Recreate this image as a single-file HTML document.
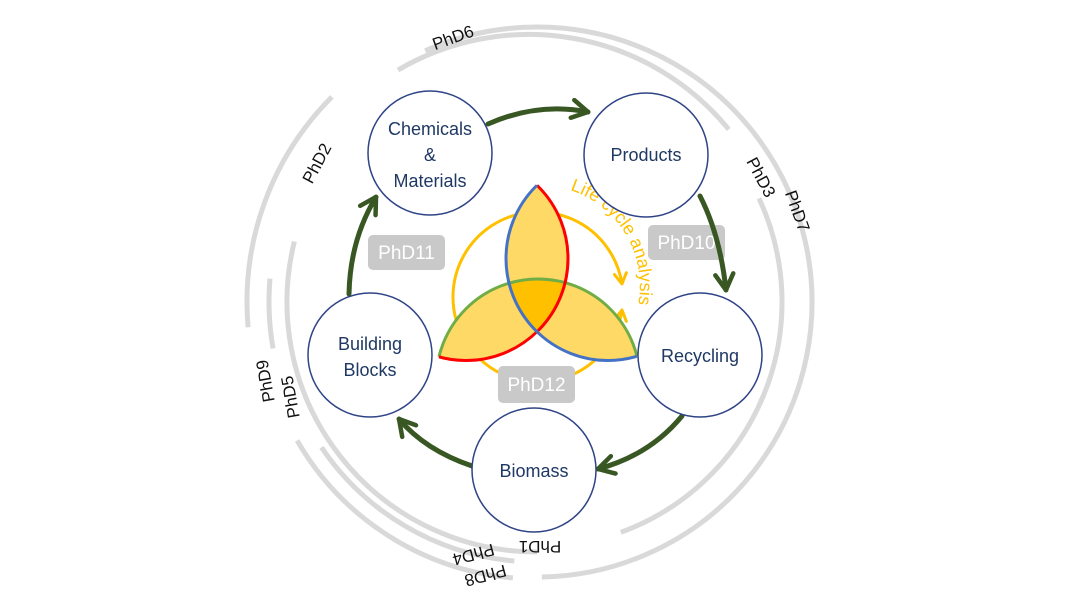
<!DOCTYPE html>
<html><head><meta charset="utf-8"><style>
html,body{margin:0;padding:0;background:#fff;}
svg{display:block;}
text{font-family:"Liberation Sans","DejaVu Sans",sans-serif;}
</style></head><body>
<svg width="1068" height="601" viewBox="0 0 1068 601" xmlns="http://www.w3.org/2000/svg">
<defs>
<marker id="ga" viewBox="0 0 10 10" refX="8" refY="5" markerWidth="4.5" markerHeight="4.5" orient="auto" markerUnits="strokeWidth">
<path d="M1,1 L8,5 L1,9" fill="none" stroke="#385723" stroke-width="2" stroke-linecap="round" stroke-linejoin="round"/>
</marker>
<marker id="ya" viewBox="0 0 10 10" refX="8" refY="5" markerWidth="5" markerHeight="5" orient="auto-start-reverse" markerUnits="strokeWidth">
<path d="M1,1 L8,5 L1,9" fill="none" stroke="#ffc000" stroke-width="2" stroke-linecap="round" stroke-linejoin="round"/>
</marker>
<clipPath id="cb"><circle cx="608" cy="258.5" r="102"/></clipPath>
<clipPath id="cr"><circle cx="466" cy="258.5" r="102"/></clipPath>
<clipPath id="cg"><circle cx="538" cy="381" r="102"/></clipPath>
<clipPath id="crg"><circle cx="466" cy="258.5" r="102"/><circle cx="538" cy="381" r="102"/></clipPath>
<clipPath id="cbg"><circle cx="608" cy="258.5" r="102"/><circle cx="538" cy="381" r="102"/></clipPath>
<clipPath id="cbr"><circle cx="608" cy="258.5" r="102"/><circle cx="466" cy="258.5" r="102"/></clipPath>
<path id="lca" d="M 570,190 A 101,101 0 0 1 637,310"/>
</defs>

<!-- gray arcs -->
<g fill="none" stroke="#d9d9d9" stroke-width="5">
<path d="M 425.2,50.8 A 275,275 0 1 1 541.8,577"/>
<path d="M 398,70 A 258,258 0 0 1 728.7,129.4"/>
<path d="M 759,198.4 A 245,245 0 0 1 620.8,532.3"/>
<path d="M 331.9,96.9 A 290,290 0 0 0 248.1,327.3"/>
<path d="M 270,278.6 A 268,268 0 0 0 273.1,348.5"/>
<path d="M 294.4,241.5 A 250,250 0 0 0 537,552"/>
<path d="M 297.1,440.5 A 277,277 0 0 0 512.9,577.9"/>
<path d="M 321.5,447.4 A 260,260 0 0 0 514.3,561"/>
</g>

<!-- PhD labels -->
<g font-size="17" fill="#111" text-anchor="middle">
<text transform="translate(455,43) rotate(-20)">PhD6</text>
<text transform="translate(322,166) rotate(-62)">PhD2</text>
<text transform="translate(756,180) rotate(62)">PhD3</text>
<text transform="translate(792,213) rotate(70)">PhD7</text>
<text transform="translate(271,380) rotate(-100)">PhD9</text>
<text transform="translate(296,396) rotate(-100)">PhD5</text>
<text transform="translate(540,541) rotate(180)">PhD1</text>
<text transform="translate(472,549) rotate(165)">PhD4</text>
<text transform="translate(484,570) rotate(165)">PhD8</text>
</g>

<!-- yellow cycle -->
<path d="M 622,310 A 85,85 0 1 1 622,284" fill="none" stroke="#ffc000" stroke-width="3" marker-end="url(#ya)" marker-start="url(#ya)"/>
<text font-size="18" fill="#ffc000"><textPath href="#lca">Life cycle analysis</textPath></text>

<!-- triquetra fills -->
<g clip-path="url(#cb)"><rect x="300" y="100" width="450" height="350" fill="#ffd966" clip-path="url(#crg)"/></g>
<g clip-path="url(#cr)"><rect x="300" y="100" width="450" height="350" fill="#ffd966" clip-path="url(#cg)"/></g>
<g clip-path="url(#cb)"><g clip-path="url(#cr)"><rect x="300" y="100" width="450" height="350" fill="#ffc000" clip-path="url(#cg)"/></g></g>
<!-- strokes -->
<circle cx="538" cy="381" r="102" fill="none" stroke="#70ad47" stroke-width="3" clip-path="url(#cbr)"/>
<circle cx="466" cy="258.5" r="102" fill="none" stroke="#ff0000" stroke-width="3" clip-path="url(#cbg)"/>
<circle cx="608" cy="258.5" r="102" fill="none" stroke="#4472c4" stroke-width="3" clip-path="url(#crg)"/>

<!-- gray boxes -->
<g fill="#c9c9c9">
<rect x="368" y="235" width="77" height="35" rx="5"/>
<rect x="648" y="225" width="77" height="35" rx="5"/>
<rect x="498" y="366" width="77" height="37" rx="5"/>
</g>
<g font-size="19" fill="#fff" text-anchor="middle">
<text x="406.5" y="259">PhD11</text>
<text x="686.5" y="249">PhD10</text>
<text x="536.5" y="391">PhD12</text>
</g>

<!-- green arrows -->
<g fill="none" stroke="#385723" stroke-width="5" stroke-linecap="round" marker-end="url(#ga)">
<path d="M 488,124 Q 538,102 588,112"/>
<path d="M 700,196 Q 720,235 726,290"/>
<path d="M 682,416 Q 650,455 598,469"/>
<path d="M 472,466 Q 425,450 399,419"/>
<path d="M 349,294 Q 350,240 376,197"/>
</g>

<!-- nodes -->
<g fill="#fff" stroke="#2f4487" stroke-width="1.5">
<circle cx="430" cy="153" r="62"/>
<circle cx="646" cy="155" r="62"/>
<circle cx="700" cy="355" r="62"/>
<circle cx="370" cy="355" r="62"/>
<circle cx="534" cy="470" r="62"/>
</g>
<g font-size="18" fill="#1f3864" text-anchor="middle">
<text x="430" y="135">Chemicals</text>
<text x="430" y="161">&amp;</text>
<text x="430" y="187">Materials</text>
<text x="646" y="161">Products</text>
<text x="700" y="362">Recycling</text>
<text x="370" y="350">Building</text>
<text x="370" y="376">Blocks</text>
<text x="534" y="477">Biomass</text>
</g>
</svg>
</body></html>
